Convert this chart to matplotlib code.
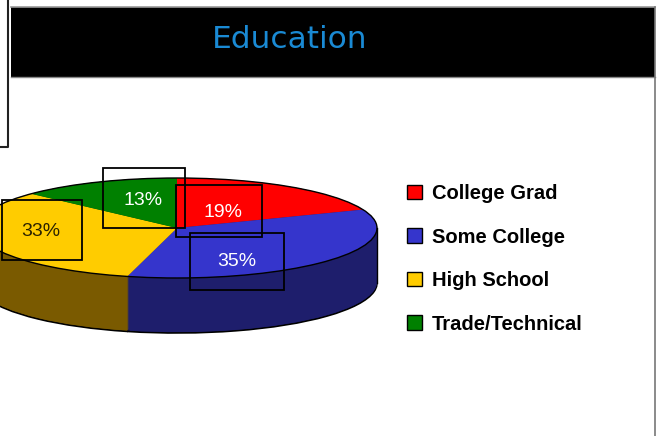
import matplotlib
matplotlib.use("Agg")
import matplotlib.pyplot as plt
from matplotlib.patches import Rectangle, Ellipse, Patch
from matplotlib.lines import Line2D

# data
categories = ["College Grad", "Some College", "High School", "Trade/Technical"]
shares = [19, 35, 33, 13]
top_colors = ["#ff0000", "#3535cc", "#ffcc00", "#008000"]
side_colors = ["#8a0000", "#1e1e6c", "#7a5a00", "#004400"]
label_colors = ["white", "white", "#2a2200", "white"]

W, H = 660, 436
fig = plt.figure(figsize=(W / 100, H / 100), dpi=100)
fig.patch.set_facecolor("white")


def fx(x):
    return x / W


def fy(y):
    # y measured from the top in pixels
    return 1 - y / H


# frame lines / header band
fig.add_artist(Rectangle((fx(11), fy(77)), fx(644), 70 / H, transform=fig.transFigure,
                         facecolor="black", edgecolor="none", zorder=1))
fig.add_artist(Line2D([fx(11), fx(655)], [fy(7), fy(7)], transform=fig.transFigure,
                      color="#999999", lw=1.2))
fig.add_artist(Line2D([fx(11), fx(655)], [fy(77.5), fy(77.5)], transform=fig.transFigure,
                      color="#888888", lw=1))
fig.add_artist(Line2D([fx(655), fx(655)], [fy(7), fy(436)], transform=fig.transFigure,
                      color="#777777", lw=1.2))
fig.add_artist(Line2D([fx(8), fx(8), fx(0)], [fy(0), fy(147), fy(147)],
                      transform=fig.transFigure, color="#222222", lw=1.5))
fig.text(fx(289.5), fy(40), "Education", color="#1a8ad4", fontsize=22.5,
         family="DejaVu Sans", ha="center", va="center")

# pie axes: 1 data unit = 200 px across, 50 px down
cx, cy, rx, ry, depth = 177, 228, 200, 50, 55
ax = fig.add_axes([0, 0, 1, 1])
steps = depth
for k in range(steps, -1, -1):
    off = k / ry
    ax.pie(shares, colors=side_colors, startangle=90, counterclock=False,
           center=(0, -off), radius=1,
           wedgeprops=dict(linewidth=1.2 if k == steps else 0,
                           edgecolor="black"))
wedges, _ = ax.pie(shares, colors=top_colors, startangle=90, counterclock=False,
                   radius=1, wedgeprops=dict(linewidth=0))
ax.add_patch(Ellipse((0, 0), 2, 2, fill=False, edgecolor="black", lw=1))
ax.plot([1, 1], [0, -depth / ry], color="black", lw=1)
ax.set_aspect("auto")
ax.set_xlim(-cx / rx, (W - cx) / rx)
ax.set_ylim(-(H - cy) / ry, cy / ry)
ax.axis("off")

# value labels with their boxes
label_pos = [(223, 212), (237, 262), (41, 231), (143, 200)]
label_box = [(176, 185, 262, 237), (190, 233, 284, 290), (2, 200, 82, 260), (103, 168, 185, 228)]
for val, col, (tx, ty), (x0, y0, x1, y1) in zip(shares, label_colors, label_pos, label_box):
    fig.text(fx(tx), fy(ty), f"{val}%", color=col, fontsize=14,
             family="Liberation Sans", ha="center", va="center", zorder=5)
    fig.add_artist(Rectangle((fx(x0), fy(y1)), (x1 - x0) / W, (y1 - y0) / H,
                             transform=fig.transFigure, fill=False,
                             edgecolor="black", lw=1.3, zorder=6))

handles = [Patch(facecolor=c, edgecolor="black", lw=1) for c in top_colors]
fig.legend(handles, categories, loc="upper left", bbox_to_anchor=(fx(407), fy(184)),
           frameon=False, borderpad=0, borderaxespad=0, handlelength=0.75,
           handleheight=0.75, handletextpad=0.5, labelspacing=1.22,
           prop=dict(family="Liberation Sans", weight="bold", size=14.5))

fig.savefig("out.png", dpi=100)
